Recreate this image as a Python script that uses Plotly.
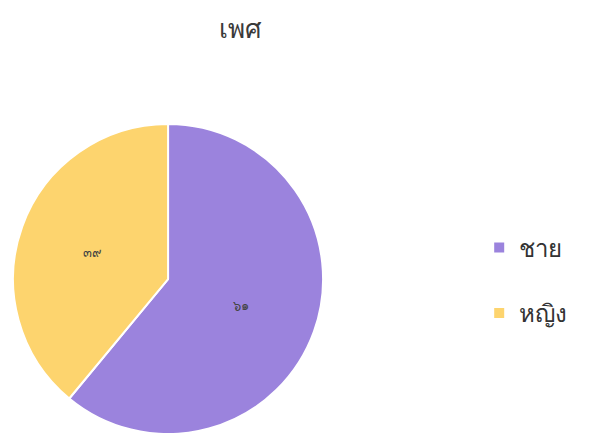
import plotly.graph_objects as go

categories = ["ชาย", "หญิง"]
values = [61, 39]
value_labels = ["๖๑", "๓๙"]
colors = ["#9b83dd", "#fdd46e"]

# extra blank line widens the spacing between legend entries
legend_labels = [c + "<br> " for c in categories]

fig = go.Figure(go.Pie(
    labels=legend_labels,
    values=values,
    text=value_labels,
    textinfo="text",
    textposition="inside",
    insidetextorientation="horizontal",
    textfont=dict(size=13, color="#444444"),
    marker=dict(colors=colors, line=dict(color="white", width=2)),
    sort=False,
    direction="clockwise",
    rotation=0,
    domain=dict(x=[0.0085, 0.535], y=[0.016, 0.732]),
    customdata=categories,
    hovertemplate="%{customdata}: %{value}<extra></extra>",
))

fig.update_layout(
    width=589, height=433,
    margin=dict(l=0, r=0, t=0, b=0),
    paper_bgcolor="white",
    plot_bgcolor="white",
    title=dict(text="เพศ", x=0.394, xanchor="center", y=0.952, yanchor="middle",
               font=dict(size=26, color="#3a3a3a")),
    legend=dict(x=0.80, y=0.335, xanchor="left", yanchor="middle",
                font=dict(size=24, color="#333333"), itemsizing="constant",
                valign="top"),
    font=dict(family="Noto Sans, sans-serif"),
)

fig.write_html("out.html")
